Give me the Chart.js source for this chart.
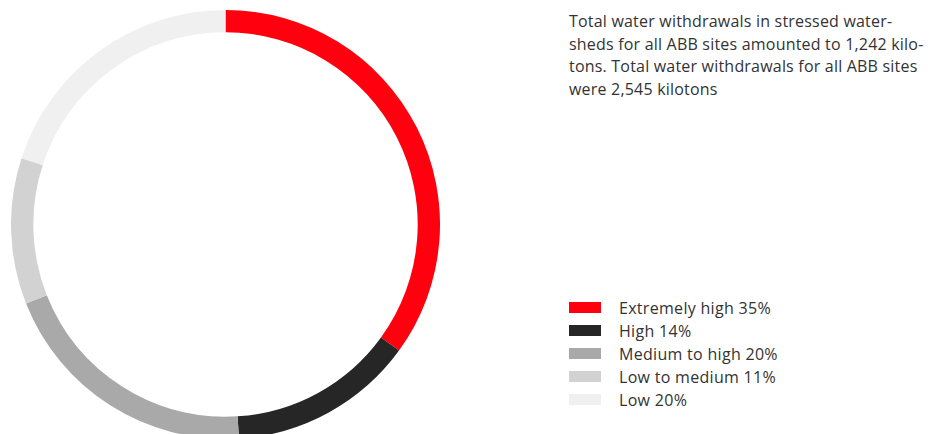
<!DOCTYPE html>
<html>
<head>
<meta charset="utf-8">
<script src="https://cdn.jsdelivr.net/npm/chart.js@4"></script>
<style>
  html, body { margin: 0; padding: 0; background: #fff; overflow: hidden; }
  body { width: 931px; height: 434px; position: relative; font-family: "Open Sans", sans-serif; color: #333; }
  #ringWrap { position: absolute; left: 11px; top: 10px; width: 429px; height: 429px; }
  #note { position: absolute; left: 569px; top: 10px; font-size: 16px; letter-spacing: 0.2px; line-height: 22.5px; white-space: nowrap; }
  #legend { position: absolute; left: 569px; top: 296px; font-size: 16px; letter-spacing: 0.3px; }
  .row { height: 23px; display: flex; align-items: center; }
  .sw { width: 32px; height: 11px; margin-right: 18px; }
</style>
</head>
<body>
<div id="ringWrap"><canvas id="stressChart"></canvas></div>
<div id="note">Total water withdrawals in stressed water-<br>sheds for all ABB sites amounted to 1,242 kilo-<br>tons. Total water withdrawals for all ABB sites<br>were 2,545 kilotons</div>
<div id="legend"></div>
<script>
// Share of withdrawals by water stress level
const levels = ['Extremely high', 'High', 'Medium to high', 'Low to medium', 'Low'];
const shares = [35, 14, 20, 11, 20];
const levelColors = ['#ff000f', '#262626', '#a9a9a9', '#d2d2d2', '#f0f0f0'];

const legendEl = document.getElementById('legend');
levels.forEach((name, i) => {
    const row = document.createElement('div');
    row.className = 'row';
    row.innerHTML = '<span class="sw" style="background:' + levelColors[i] + '"></span>' +
        name + ' ' + shares[i] + '%';
    legendEl.appendChild(row);
});

const stressCtx = document.getElementById('stressChart');
new Chart(stressCtx, {
    type: 'doughnut',
    data: {
        labels: levels,
        datasets: [{
            data: shares,
            backgroundColor: levelColors,
            borderWidth: 0
        }]
    },
    options: {
        responsive: true,
        maintainAspectRatio: true,
        aspectRatio: 1,
        animation: false,
        cutout: '89.6%',
        plugins: { legend: { display: false }, tooltip: { enabled: false } }
    }
});
</script>
</body>
</html>
